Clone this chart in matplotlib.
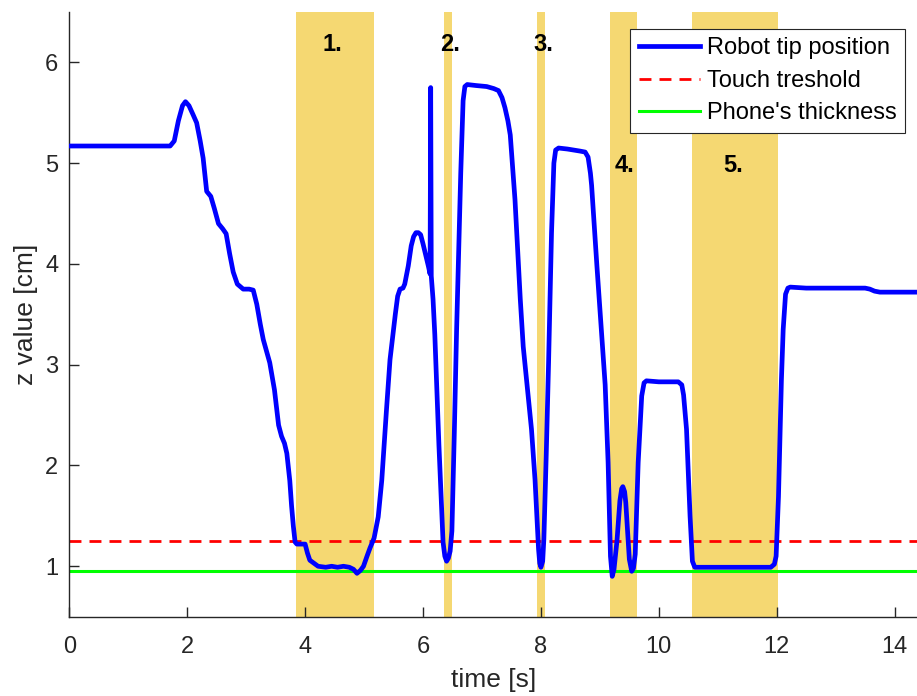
# z position of robot tip over time
import matplotlib.pyplot as plt

plt.rcParams['font.family'] = ['Liberation Sans', 'DejaVu Sans']

# robot tip trace
t = [0, 1.71, 1.78, 1.85, 1.92, 1.97, 2.03, 2.10, 2.16, 2.22,
     2.27, 2.33, 2.40, 2.46, 2.53, 2.60, 2.66, 2.72, 2.78, 2.85,
     2.95, 3.05, 3.12, 3.18, 3.24, 3.29, 3.40, 3.48, 3.55, 3.60,
     3.65, 3.69, 3.74, 3.77, 3.80, 3.83, 3.86, 4.00, 4.04, 4.08,
     4.15, 4.22, 4.35, 4.45, 4.55, 4.65, 4.75, 4.82, 4.88, 4.94,
     4.99, 5.05, 5.10, 5.17, 5.24, 5.30, 5.38, 5.44, 5.50, 5.53,
     5.57, 5.61, 5.66, 5.69, 5.75, 5.80, 5.84, 5.88, 5.92, 5.96,
     6.00, 6.05, 6.09, 6.12, 6.13, 6.14, 6.17, 6.20, 6.27, 6.34,
     6.37, 6.40, 6.43, 6.46, 6.49, 6.53, 6.57, 6.60, 6.64, 6.68,
     6.71, 6.75, 6.90, 7.08, 7.20, 7.28, 7.34, 7.39, 7.44, 7.48,
     7.56, 7.65, 7.70, 7.84, 7.90, 7.94, 7.96, 7.98, 8.00, 8.03,
     8.05, 8.09, 8.13, 8.18, 8.22, 8.25, 8.30, 8.45, 8.66, 8.75,
     8.80, 8.84, 8.86, 8.95, 9.03, 9.09, 9.14, 9.18, 9.21, 9.24,
     9.29, 9.34, 9.37, 9.39, 9.42, 9.44, 9.50, 9.54, 9.57, 9.60,
     9.65, 9.71, 9.75, 9.79, 10.0, 10.33, 10.39, 10.42, 10.47, 10.53,
     10.57, 10.61, 11.0, 11.5, 11.90, 11.96, 11.99, 12.03, 12.08, 12.11,
     12.15, 12.19, 12.23, 12.5, 13.0, 13.5, 13.58, 13.66, 13.75, 14.0,
     14.4]
z = [5.17, 5.17, 5.22, 5.42, 5.57, 5.61, 5.57, 5.48, 5.40, 5.22,
     5.05, 4.72, 4.67, 4.55, 4.40, 4.35, 4.30, 4.10, 3.92, 3.80,
     3.75, 3.75, 3.74, 3.60, 3.40, 3.25, 3.02, 2.75, 2.40, 2.29,
     2.22, 2.12, 1.85, 1.60, 1.40, 1.24, 1.22, 1.22, 1.13, 1.06,
     1.03, 1.00, 0.99, 1.00, 0.99, 1.00, 0.99, 0.97, 0.93, 0.96,
     1.00, 1.10, 1.18, 1.28, 1.49, 1.85, 2.55, 3.05, 3.35, 3.50,
     3.68, 3.75, 3.76, 3.80, 3.98, 4.18, 4.27, 4.31, 4.31, 4.29,
     4.20, 4.08, 3.98, 3.90, 5.75, 3.88, 3.65, 3.30, 2.20, 1.24,
     1.10, 1.05, 1.08, 1.15, 1.35, 2.30, 3.35, 4.00, 4.90, 5.62,
     5.76, 5.78, 5.77, 5.76, 5.74, 5.72, 5.65, 5.55, 5.42, 5.28,
     4.64, 3.65, 3.18, 2.36, 1.86, 1.40, 1.17, 1.03, 0.99, 1.05,
     1.27, 2.10, 3.02, 4.31, 5.00, 5.13, 5.15, 5.14, 5.12, 5.11,
     5.06, 4.90, 4.78, 3.98, 3.30, 2.80, 2.03, 1.10, 0.90, 0.97,
     1.25, 1.65, 1.77, 1.79, 1.74, 1.63, 1.07, 0.95, 0.98, 1.12,
     2.03, 2.69, 2.82, 2.84, 2.83, 2.83, 2.80, 2.70, 2.36, 1.50,
     1.05, 0.99, 0.99, 0.99, 0.99, 1.02, 1.10, 1.69, 2.85, 3.35,
     3.70, 3.76, 3.77, 3.76, 3.76, 3.76, 3.75, 3.73, 3.72, 3.72,
     3.72]

touch_threshold = 1.25
phone_thickness = 0.95

# contact phases (start, end) and their labels
phase_start = [3.84, 6.36, 7.93, 9.18, 10.56]
phase_end = [5.17, 6.49, 8.07, 9.63, 12.03]
phase_labels = ['1.', '2.', '3.', '4.', '5.']
label_x = [4.47, 6.46, 8.04, 9.41, 11.26]
label_y = [6.18, 6.18, 6.18, 4.98, 4.98]

fig = plt.figure(figsize=(9.17, 6.96), dpi=100)
ax = fig.add_axes([0.0756, 0.114, 0.9244, 0.8688])

for a, b in zip(phase_start, phase_end):
    ax.axvspan(a, b, color='#F5D872', lw=0, zorder=0)
for s, x, y in zip(phase_labels, label_x, label_y):
    ax.text(x, y, s, ha='center', va='center', fontsize=17,
            fontweight='bold', color='black')

ax.plot(t, z, color='#0000FF', lw=3.4, label='Robot tip position', zorder=3)
ax.axhline(touch_threshold, color='#FF0000', lw=2, dashes=(4.3, 2.9),
           label='Touch treshold', zorder=2)
ax.axhline(phone_thickness, color='#00FF00', lw=2.2,
           label="Phone's thickness", zorder=2)

ax.set_xlim(0, 14.38)
ax.set_ylim(0.5, 6.5)
ax.set_xticks(range(0, 15, 2))
ax.set_yticks(range(1, 7))

ax.spines['top'].set_visible(False)
ax.spines['right'].set_visible(False)
for side in ['left', 'bottom']:
    ax.spines[side].set_color('#262626')
    ax.spines[side].set_linewidth(1)
ax.tick_params(direction='in', length=7, width=1, color='#262626',
               labelcolor='#262626', labelsize=17)
ax.tick_params(axis='x', pad=14)
ax.tick_params(axis='y', pad=8)

ax.set_xlabel('time [s]', fontsize=19, color='#262626', labelpad=7)
ax.set_ylabel('z value [cm]', fontsize=19, color='#262626', labelpad=5)

leg = ax.legend(loc='upper right', bbox_to_anchor=(0.986, 0.972),
                borderaxespad=0, fontsize=17, fancybox=False,
                framealpha=1, edgecolor='#262626', handlelength=2.6,
                handletextpad=0.3, labelspacing=0.45, borderpad=0.35)
leg.get_frame().set_linewidth(0.8)

plt.savefig('out.png', dpi=100)
